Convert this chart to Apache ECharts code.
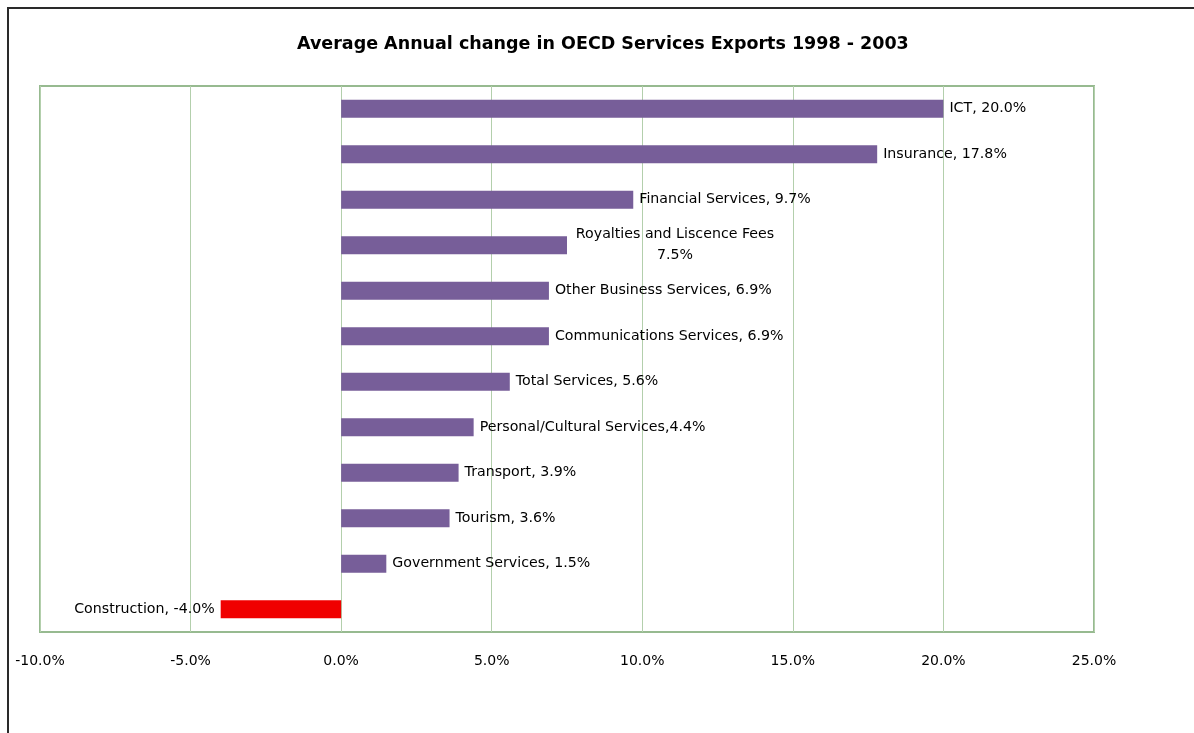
<!DOCTYPE html>
<html>
<head>
<meta charset="utf-8">
<script src="https://cdn.jsdelivr.net/npm/echarts@6/dist/echarts.min.js"></script>
<style>
  html, body { margin: 0; padding: 0; background: #fff; }
  #chart { width: 1194px; height: 733px; }
</style>
</head>
<body>
<div id="chart"></div>
<script>
// Service categories, top to bottom
const categories = [
  'ICT', 'Insurance', 'Financial Services', 'Royalties and Liscence Fees',
  'Other Business Services', 'Communications Services', 'Total Services',
  'Personal/Cultural Services', 'Transport', 'Tourism',
  'Government Services', 'Construction'
];
// Average annual change, percent
const changes = [20.0, 17.8, 9.7, 7.5, 6.9, 6.9, 5.6, 4.4, 3.9, 3.6, 1.5, -4.0];
// Bar label text
const barLabels = [
  'ICT, 20.0%', 'Insurance, 17.8%', 'Financial Services, 9.7%',
  'Royalties and Liscence Fees\n7.5%', 'Other Business Services, 6.9%',
  'Communications Services, 6.9%', 'Total Services, 5.6%',
  'Personal/Cultural Services,4.4%', 'Transport, 3.9%', 'Tourism, 3.6%',
  'Government Services, 1.5%', 'Construction, -4.0%'
];

const FONT = 'DejaVu Sans';
const chart = echarts.init(document.getElementById('chart'));

const seriesData = changes.map((v, i) => {
  const item = {
    value: v,
    itemStyle: { color: v < 0 ? '#f00000' : '#775e99' }
  };
  if (v < 0) {
    item.label = { position: 'left', distance: 6 };
  } else if (barLabels[i].indexOf('\n') >= 0) {
    item.label = { align: 'center', offset: [102, 0], lineHeight: 21 };
  }
  return item;
});

chart.setOption({
  animation: false,
  title: {
    text: 'Average Annual change in OECD Services Exports 1998 - 2003',
    left: 297,
    top: 35,
    padding: 0,
    textStyle: { fontFamily: FONT, fontSize: 17.5, fontWeight: 'bold', color: '#000' }
  },
  grid: {
    left: 40, right: 100, top: 86, bottom: 101,
    show: true, borderColor: '#97ba90', borderWidth: 2, backgroundColor: '#fff'
  },
  xAxis: {
    type: 'value',
    min: -10, max: 25, interval: 5,
    axisLine: { show: false },
    axisTick: { show: false },
    splitLine: { show: true, lineStyle: { color: '#b3cfac', width: 1 } },
    axisLabel: {
      margin: 22,
      fontFamily: FONT, fontSize: 14, color: '#000',
      formatter: v => v.toFixed(1) + '%'
    }
  },
  yAxis: {
    type: 'category',
    data: categories,
    inverse: true,
    axisLine: { show: false },
    axisTick: { show: false },
    axisLabel: { show: false },
    splitLine: { show: false }
  },
  series: [{
    type: 'bar',
    data: seriesData,
    barWidth: 18,
    label: {
      show: true,
      position: 'right',
      distance: 6,
      fontFamily: FONT, fontSize: 14.2, color: '#000',
      formatter: p => barLabels[p.dataIndex]
    }
  }],
  graphic: [{
    type: 'polyline',
    shape: { points: [[8, 733], [8, 8], [1194, 8]] },
    style: { stroke: '#2a2a2a', lineWidth: 2, fill: null },
    silent: true
  }]
});
</script>
</body>
</html>
